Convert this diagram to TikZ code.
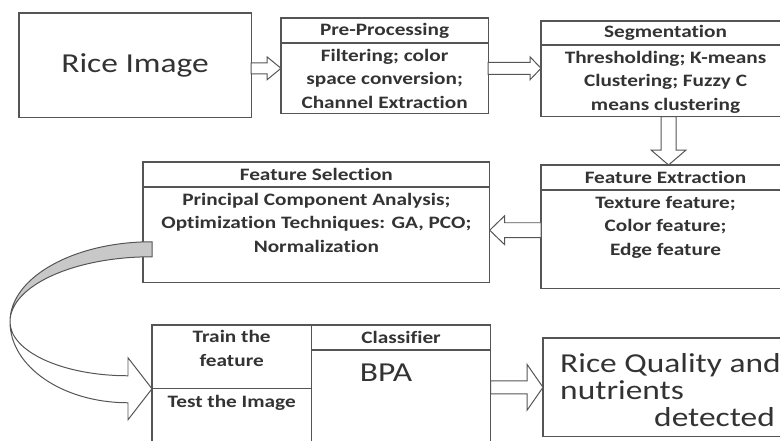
\documentclass[tikz,border=0pt]{standalone}
\usepackage{fontspec}
\setmainfont{Carlito}[FakeStretch=1.22, Ligatures=NoCommon]
\usepackage{tikz}
\usetikzlibrary{positioning, calc}

\definecolor{linegray}{HTML}{555555}
\definecolor{textgray}{HTML}{333333}
\definecolor{ribbongray}{HTML}{C8C8C8}

\tikzset{
  box/.style={draw=linegray, line width=1.2pt, inner sep=0pt, outer sep=0pt, anchor=north west, text=textgray},
  head/.style={box, font=\bfseries\fontsize{17.5}{20}\selectfont},
  body/.style={box},
  bodytext/.style={anchor=north, align=center, inner sep=0pt, text=textgray, font=\bfseries\fontsize{17.5}{23.7}\selectfont},
  bigtext/.style={text=textgray, font=\fontsize{27.5}{32}\selectfont},
  hollow/.style={draw=linegray, line width=1pt, fill=white},
}

% block arrow: from, to, shaft half width, head half width, head length
\newcommand{\blockarrow}[5]{%
  \path ($(#2)!#5!(#1)$) coordinate (hb);
  \draw[hollow] ($(#1)!#3!90:(#2)$) -- ($(hb)!#3!90:(#2)$) -- ($(hb)!#4!90:(#2)$) -- (#2)
    -- ($(hb)!#4!-90:(#2)$) -- ($(hb)!#3!-90:(#2)$) -- ($(#1)!#3!-90:(#2)$) -- cycle;}

\begin{document}
\begin{tikzpicture}[x=1bp, y=-1bp]
    \useasboundingbox (0,0) rectangle (780,441);
    \clip (0,0) rectangle (780,441);

    % top row
    \node[box, bigtext, minimum width=233, minimum height=105] (rice) at (19,13) {Rice Image};
    \draw[linegray, line width=2.4pt] (rice.north west) -- ++(0,12);

    \node[head, minimum width=208, minimum height=25] (prehead) at (281,18) {Pre-Processing};
    \node[body, minimum width=208, minimum height=71, below=0pt of prehead] (prebody) {};
    \node[bodytext] (pretext) at ($(prebody.north)+(0,6)$) {Filtering; color\\space conversion;\\Channel Extraction};

    \node[head, minimum width=250, minimum height=24] (seghead) at (541,21) {Segmentation};
    \node[body, minimum width=250, minimum height=72, below=0pt of seghead] (segbody) {};
    \node[bodytext] (segtext) at ($(segbody.north)+(0,6)$) {Thresholding; K-means\\Clustering; Fuzzy C\\means clustering};

    % middle row
    \node[head, minimum width=250, minimum height=25] (fehead) at (541,165) {Feature Extraction};
    \node[body, minimum width=250, minimum height=99, below=0pt of fehead] (febody) {};
    \node[bodytext] (fetext) at ($(febody.north)+(0,6)$) {Texture feature;\\Color feature;\\Edge feature};

    \node[head, minimum width=348, minimum height=25] (fshead) at (143,162) {Feature Selection};
    \node[body, minimum width=348, minimum height=96, below=0pt of fshead] (fsbody) {};
    \node[bodytext] (fstext) at ($(fsbody.north)+(0,6)$) {Principal Component Analysis;\\Optimization Techniques: GA, PCO;\\Normalization};

    % bottom row
    \node[box, minimum width=160, minimum height=64] (trainhead) at (152,325) {};
    \node[bodytext] (traintext) at ($(trainhead.north)+(0,5)$) {Train the\\feature};
    \node[body, minimum width=160, minimum height=70, below=0pt of trainhead] (testbody) {};
    \node[bodytext] (testtext) at ($(testbody.north)+(0,6)$) {Test the Image};

    \node[head, minimum width=180, minimum height=25] (clshead) at (trainhead.north east) {Classifier};
    \node[body, minimum width=180, minimum height=100, below=0pt of clshead] (clsbody) {};
    \node[bigtext, anchor=base] (bpa) at ($(clsbody.north)+(-15,32)$) {BPA};

    \node[box, minimum width=250, minimum height=99] (result) at (543,338) {};
    \node[bigtext, anchor=base west, inner sep=0pt] (rq1) at ($(result.north west)+(17,35)$) {Rice Quality and};
    \node[bigtext, anchor=base west, inner sep=0pt] (rq2) at ($(result.north west)+(17,61)$) {nutrients};
    \node[bigtext, anchor=base west, inner sep=1pt, fill=white] (rq3) at ($(result.north west)+(110,88)$) {detected};

    % block arrows
    \coordinate (a1s) at ($(rice.east)+(0,3)$);
    \coordinate (a1e) at (a1s -| prebody.west);
    \blockarrow{a1s}{a1e}{5.5pt}{11.5pt}{14pt}
    \coordinate (a2s) at (prebody.east |- a1s);
    \coordinate (a2e) at (a2s -| segbody.west);
    \blockarrow{a2s}{a2e}{6pt}{11.5pt}{11pt}
    \coordinate (a3s) at ($(segbody.south)+(3,0)$);
    \coordinate (a3e) at (a3s |- fehead.north);
    \blockarrow{a3s}{a3e}{7.5pt}{17.5pt}{15pt}
    \coordinate (a4s) at ($(febody.west)+(0,-9)$);
    \coordinate (a4e) at (a4s -| fsbody.east);
    \blockarrow{a4s}{a4e}{7.5pt}{14.5pt}{15pt}
    \coordinate (a5s) at (clsbody.east |- result.west);
    \coordinate (a5e) at (result.west);
    \blockarrow{a5s}{a5e}{6.5pt}{23pt}{16pt}

    % curved ribbon from feature selection to train box
    \begin{scope}[shift={(trainhead.south west)}]
        \draw[linegray, line width=1pt, fill=ribbongray] (0,-147) .. controls (-78.4,-147) and (-142,-111.2) .. (-142,-67)
            .. controls (-142,-102.9) and (-78.4,-132) .. (0,-132) -- cycle;
        \draw[hollow] (-142,-67) .. controls (-142,-22) and (-89,14) .. (-24,14) -- (-24,31) -- (0,0)
            -- (-24,-31) -- (-24,-13) .. controls (-89,-13) and (-142,-37) .. (-142,-67) -- cycle;
    \end{scope}
\end{tikzpicture}
\end{document}
